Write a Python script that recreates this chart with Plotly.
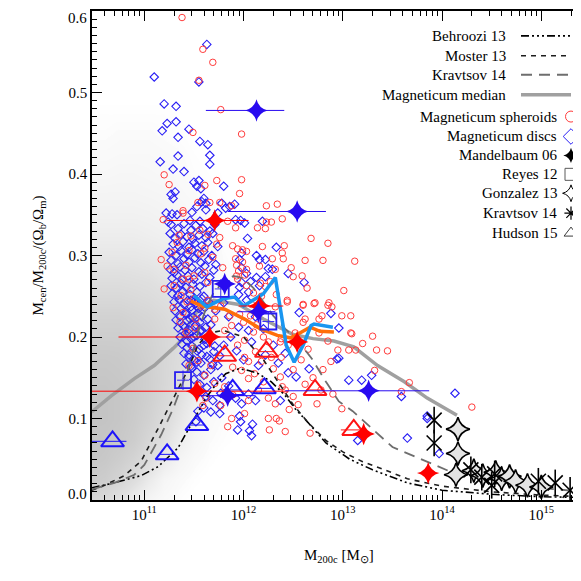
import math
import plotly.graph_objects as go

FONT = "Liberation Serif"

# ---------------- data (log10 M200c, Mcen/M200c/(Ob/Om)) ----------------
# density of the grey Magneticum background galaxies, read by eye (rows = fraction, cols = logM)
gray_logm = [10.45, 10.6, 10.75, 10.9, 11.05, 11.2, 11.35, 11.5, 11.65, 11.8, 12.0, 12.3]
gray_frac = [0.0, 0.025, 0.05, 0.075, 0.1, 0.125, 0.15, 0.175, 0.2, 0.225, 0.25, 0.275,
             0.3, 0.325, 0.35, 0.375, 0.4, 0.425, 0.45, 0.475, 0.5]
gray_density = [
    [0.60, 0.50, 0.35, 0.20, 0.10, 0.05, 0.02, 0, 0, 0, 0, 0],
    [0.85, 0.80, 0.65, 0.45, 0.25, 0.10, 0.05, 0.02, 0, 0, 0, 0],
    [0.95, 0.90, 0.80, 0.65, 0.45, 0.25, 0.12, 0.05, 0.02, 0, 0, 0],
    [1.00, 0.95, 0.90, 0.80, 0.60, 0.40, 0.22, 0.10, 0.04, 0.02, 0, 0],
    [1.00, 1.00, 0.95, 0.85, 0.70, 0.50, 0.32, 0.16, 0.06, 0.03, 0.01, 0],
    [1.00, 1.00, 0.95, 0.88, 0.75, 0.58, 0.40, 0.22, 0.10, 0.04, 0.02, 0],
    [0.95, 0.95, 0.92, 0.85, 0.75, 0.60, 0.45, 0.28, 0.12, 0.05, 0.02, 0],
    [0.90, 0.90, 0.88, 0.82, 0.72, 0.60, 0.48, 0.30, 0.14, 0.06, 0.02, 0],
    [0.80, 0.80, 0.80, 0.75, 0.68, 0.58, 0.48, 0.32, 0.15, 0.06, 0.02, 0],
    [0.70, 0.70, 0.70, 0.65, 0.60, 0.52, 0.42, 0.30, 0.14, 0.05, 0.02, 0],
    [0.55, 0.55, 0.55, 0.52, 0.48, 0.42, 0.35, 0.25, 0.12, 0.05, 0.02, 0],
    [0.42, 0.42, 0.42, 0.40, 0.38, 0.33, 0.28, 0.20, 0.10, 0.04, 0.01, 0],
    [0.30, 0.30, 0.30, 0.30, 0.28, 0.25, 0.20, 0.15, 0.08, 0.03, 0.01, 0],
    [0.22, 0.22, 0.22, 0.22, 0.20, 0.18, 0.15, 0.10, 0.05, 0.02, 0.01, 0],
    [0.16, 0.16, 0.16, 0.16, 0.15, 0.13, 0.10, 0.07, 0.04, 0.02, 0, 0],
    [0.12, 0.12, 0.12, 0.12, 0.11, 0.10, 0.07, 0.05, 0.03, 0.01, 0, 0],
    [0.08, 0.08, 0.09, 0.09, 0.08, 0.07, 0.05, 0.03, 0.02, 0.01, 0, 0],
    [0.05, 0.05, 0.06, 0.06, 0.06, 0.05, 0.04, 0.02, 0.01, 0, 0, 0],
    [0.03, 0.03, 0.04, 0.04, 0.04, 0.03, 0.02, 0.01, 0, 0, 0, 0],
    [0.02, 0.02, 0.02, 0.02, 0.02, 0.02, 0.01, 0, 0, 0, 0, 0],
    [0, 0, 0, 0, 0, 0, 0, 0, 0, 0, 0, 0],
]

spheroids = [
    (11.38,0.592),(11.59,0.553),(11.69,0.537),(11.55,0.515),(11.77,0.479),(11.98,0.449),(11.49,0.451),
    (11.20,0.399),(11.25,0.387),(11.39,0.355),(11.61,0.386),(11.73,0.392),(11.96,0.376),(11.98,0.393),
    (11.54,0.365),(11.66,0.365),(11.76,0.365),(11.88,0.361),(12.23,0.361),(12.34,0.363),(12.39,0.345),
    (12.23,0.341),(12.28,0.341),(12.22,0.333),(12.14,0.334),(11.92,0.334),(11.19,0.344),(11.84,0.342),
    (11.39,0.352),(12.68,0.321),(12.85,0.315),(12.19,0.311),(12.41,0.312),(12.39,0.303),(12.40,0.296),
    (11.99,0.307),(12.03,0.305),(12.29,0.296),(12.62,0.294),(12.80,0.294),(13.12,0.293),(12.48,0.285),
    (12.32,0.283),(11.99,0.292),(12.16,0.287),(12.59,0.275),(12.50,0.274),(12.64,0.260),(12.01,0.276),
    (11.93,0.275),(12.03,0.263),(12.17,0.266),(13.01,0.257),(12.22,0.262),(12.27,0.268),(12.10,0.254),
    (12.33,0.252),(12.44,0.245),(12.60,0.239),(12.71,0.241),(12.85,0.239),(12.89,0.237),(12.32,0.237),
    (11.93,0.288),(11.95,0.281),(11.92,0.296),(11.35,0.325),(11.47,0.324),(11.64,0.326),(11.76,0.322),
    (11.89,0.312),(11.94,0.308),(11.45,0.306),(11.57,0.302),(11.69,0.298),(11.28,0.304),(11.79,0.285),
    (12.03,0.283),(11.50,0.275),(11.39,0.271),(11.30,0.263),(11.45,0.271),(11.64,0.267),(11.94,0.271),
    (11.30,0.283),(11.61,0.279),(11.37,0.251),(11.50,0.247),(11.57,0.238),(11.20,0.259),(11.17,0.295),
    (11.23,0.287),(11.73,0.314),(11.61,0.309),(12.44,0.243),(12.60,0.240),(12.72,0.242),(12.86,0.242),
    (12.99,0.226),(12.79,0.226),(12.76,0.222),(12.62,0.222),(12.76,0.205),(12.85,0.195),(12.95,0.184),
    (13.06,0.184),(13.08,0.205),(13.30,0.201),(13.13,0.184),(13.34,0.184),(13.45,0.183),(13.32,0.159),
    (13.67,0.144),(13.59,0.133),(12.37,0.194),(12.38,0.175),(12.39,0.139),(12.50,0.127),(12.55,0.117),
    (12.74,0.118),(12.60,0.218),(13.08,0.226),(13.09,0.204),(13.20,0.192),(14.30,0.114),(12.26,0.086),
    (12.33,0.100),(12.36,0.097),(12.46,0.111),(12.67,0.082),(12.99,0.112),(11.88,0.100),(11.94,0.190),
    (12.01,0.175),(11.89,0.163),(11.98,0.159),(12.05,0.149),(12.11,0.155),(12.15,0.135),(12.30,0.161),
    (12.37,0.151),(12.42,0.135),(11.77,0.116),(12.01,0.106),(12.10,0.206),(11.81,0.208),(11.88,0.214),
    (11.71,0.222),(12.00,0.218),(12.20,0.200),(12.25,0.194),(12.38,0.198),(12.01,0.196),(12.28,0.175),
    (11.54,0.171),(11.61,0.153),(11.81,0.139),(11.89,0.129),(12.05,0.122),(11.71,0.143),(11.67,0.165),
    (11.39,0.230),(11.42,0.206),(11.49,0.186),(11.45,0.165),(11.54,0.141),(11.62,0.125),(11.59,0.116),
    (11.52,0.222),(11.71,0.234),(11.77,0.238),(11.86,0.226),(11.64,0.245),(12.25,0.100),(12.42,0.084),
    (11.84,0.090),(12.50,0.160),(12.58,0.172),(12.65,0.185),(12.70,0.150),(12.80,0.160),(12.62,0.142),
    (12.45,0.190),(12.52,0.205),(12.88,0.170),(12.90,0.130),(12.78,0.135),(12.12,0.182),(12.18,0.170),
    (12.20,0.145),(12.25,0.125),(12.32,0.118),(12.05,0.170),(12.13,0.215),(11.96,0.228),(12.08,0.240),
    (12.18,0.250),(12.07,0.226),(11.33,0.316),(11.42,0.288),(11.36,0.219),(11.47,0.258),(11.56,0.331),
    (11.29,0.236),(11.43,0.243),(11.51,0.211),
]

discs = [
    (11.10,0.519),(11.20,0.486),(11.18,0.453),(11.23,0.462),(11.32,0.483),(11.32,0.464),(11.34,0.445),
    (11.45,0.455),(11.56,0.440),(11.63,0.559),(11.55,0.513),(11.64,0.436),(11.66,0.423),(11.66,0.412),
    (11.16,0.415),(11.29,0.406),(11.34,0.422),(11.40,0.403),(11.27,0.375),(11.29,0.370),(11.31,0.378),
    (11.50,0.390),(11.53,0.385),(11.55,0.392),(11.57,0.382),(11.58,0.366),(11.60,0.370),(11.62,0.364),
    (11.53,0.360),(11.80,0.385),(11.78,0.364),(11.82,0.358),(11.86,0.360),(11.22,0.352),(11.28,0.351),
    (11.33,0.350),(11.48,0.353),(11.62,0.356),(11.74,0.352),(11.97,0.343),(12.01,0.340),(12.19,0.342),
    (11.24,0.341),(11.46,0.343),(11.56,0.342),(11.91,0.363),(11.92,0.344),
    (12.04,0.321),(12.33,0.310),(11.98,0.303),(11.96,0.295),(12.13,0.300),(12.16,0.295),(12.22,0.295),
    (11.98,0.285),(12.03,0.278),(12.25,0.284),(12.29,0.283),(12.13,0.273),(12.22,0.274),(11.98,0.267),
    (12.07,0.268),(12.16,0.263),(12.45,0.278),(12.61,0.267),(11.96,0.261),(12.05,0.255),(11.95,0.252),
    (12.03,0.245),
    (12.56,0.230),(12.88,0.229),(12.96,0.211),(12.94,0.173),(12.45,0.156),(12.53,0.151),(12.66,0.161),
    (13.06,0.147),(13.19,0.147),(13.29,0.153),(13.59,0.127),(12.37,0.122),(13.85,0.103),(14.13,0.131),
    (13.85,0.100),(13.15,0.073),(13.65,0.076),(13.97,0.057),(12.96,0.174),
    (11.96,0.103),(11.97,0.096),(12.09,0.093),(12.06,0.085),(12.08,0.079),(11.76,0.106),(11.54,0.109),
    (11.52,0.096),(11.94,0.086),
    (11.44,0.245),(11.47,0.237),(11.50,0.243),(11.55,0.235),(11.42,0.228),(11.46,0.222),(11.52,0.215),
    (11.58,0.225),(11.41,0.212),(11.45,0.205),(11.50,0.200),(11.56,0.207),(11.62,0.212),(11.43,0.195),
    (11.48,0.189),(11.53,0.183),(11.60,0.190),(11.66,0.198),(11.45,0.178),(11.50,0.172),(11.57,0.168),
    (11.63,0.176),(11.70,0.182),(11.48,0.162),(11.53,0.157),(11.60,0.153),(11.67,0.160),(11.74,0.165),
    (11.50,0.148),(11.56,0.142),(11.63,0.138),(11.70,0.145),(11.78,0.150),(11.55,0.133),(11.62,0.127),
    (11.69,0.122),(11.77,0.131),(11.85,0.140),(11.60,0.113),(11.67,0.108),(11.76,0.116),(11.92,0.125),
    (11.98,0.118),(12.05,0.130),(12.12,0.122),(11.80,0.190),(11.87,0.200),(11.93,0.183),(12.00,0.172),
    (12.08,0.194),(12.15,0.165),(12.22,0.178),(12.30,0.190),(12.05,0.208),(11.85,0.225),(11.95,0.212),
    (12.12,0.225),(12.20,0.210),(12.35,0.168),(12.42,0.180),(11.72,0.232),(11.80,0.242),
    (11.27,0.338),(11.34,0.333),(11.40,0.339),(11.47,0.331),(11.52,0.337),(11.59,0.333),(11.66,0.330),
    (11.71,0.338),(11.26,0.327),(11.31,0.321),(11.37,0.326),(11.43,0.323),(11.49,0.320),(11.55,0.325),
    (11.62,0.322),(11.69,0.327),(11.29,0.314),(11.35,0.311),(11.39,0.317),(11.45,0.310),(11.51,0.315),
    (11.58,0.312),(11.64,0.316),(11.74,0.311),(11.25,0.304),(11.32,0.300),(11.37,0.306),(11.43,0.301),
    (11.48,0.307),(11.54,0.302),(11.60,0.305),(11.68,0.300),(11.27,0.294),(11.34,0.290),(11.40,0.296),
    (11.45,0.292),(11.51,0.297),(11.57,0.291),(11.65,0.295),(11.72,0.289),(11.26,0.283),(11.30,0.279),
    (11.36,0.286),(11.41,0.282),(11.48,0.285),(11.55,0.280),(11.61,0.287),(11.70,0.282),(11.28,0.272),
    (11.33,0.276),(11.38,0.270),(11.44,0.275),(11.50,0.271),(11.58,0.277),(11.66,0.273),(11.27,0.263),
    (11.32,0.260),(11.37,0.266),(11.42,0.261),(11.49,0.265),(11.56,0.262),(11.62,0.267),(11.28,0.253),
    (11.34,0.251),(11.39,0.256),(11.46,0.252),(11.53,0.255),(11.60,0.250),(11.30,0.243),(11.35,0.246),
    (11.40,0.240),(11.47,0.245),(11.52,0.241),(11.58,0.247),(11.65,0.243),(11.31,0.232),(11.37,0.235),
    (11.42,0.230),(11.48,0.233),(11.54,0.229),(11.61,0.236),(11.32,0.221),(11.36,0.225),(11.43,0.220),
    (11.49,0.224),(11.56,0.218),(11.64,0.222),(11.34,0.211),(11.39,0.214),(11.45,0.209),(11.51,0.213),
    (11.58,0.208),(11.67,0.215),(11.36,0.200),(11.41,0.204),(11.47,0.198),(11.53,0.202),(11.61,0.197),
    (11.38,0.191),(11.43,0.187),(11.55,0.185),(11.63,0.192),(11.71,0.189),(11.40,0.180),(11.45,0.175),
    (11.58,0.178),(11.66,0.173),(11.76,0.177),(11.42,0.167),(11.47,0.164),(11.53,0.169),(11.69,0.166),
]

median_logm = [10.47, 10.67, 10.90, 11.10, 11.29, 11.39, 11.44, 11.55, 11.70, 11.95, 12.20, 12.50,
               12.70, 12.91, 13.11, 13.35, 13.62, 13.85, 14.15]
median_frac = [0.108, 0.128, 0.149, 0.165, 0.186, 0.198, 0.214, 0.235, 0.245, 0.240, 0.222, 0.203,
               0.198, 0.195, 0.188, 0.165, 0.145, 0.125, 0.104]

spheroid_med_logm = [11.47, 11.58, 11.70, 11.81, 12.01, 12.17, 12.34, 12.47, 12.51, 12.67, 12.77, 12.91]
spheroid_med_frac = [0.244, 0.238, 0.236, 0.234, 0.222, 0.210, 0.202, 0.199, 0.201, 0.212, 0.207, 0.206]

disc_med_logm = [11.50, 11.63, 11.79, 11.91, 12.00, 12.20, 12.32, 12.37, 12.43, 12.51, 12.60, 12.68, 12.71, 12.90]
disc_med_frac = [0.251, 0.237, 0.247, 0.249, 0.238, 0.253, 0.273, 0.235, 0.190, 0.169, 0.190, 0.214, 0.216, 0.212]

behroozi_logm = [10.47, 10.66, 10.97, 11.14, 11.34, 11.45, 11.52, 11.62, 11.71, 11.82, 11.95, 12.05, 12.15,
                 12.28, 12.42, 12.52, 12.65, 12.83, 13.07, 13.30, 13.65, 14.00, 14.50, 15.00, 15.45]
behroozi_frac = [0.015, 0.020, 0.030, 0.041, 0.064, 0.088, 0.103, 0.125, 0.140, 0.155, 0.161, 0.159, 0.155,
                 0.145, 0.128, 0.112, 0.095, 0.070, 0.050, 0.037, 0.021, 0.012, 0.007, 0.004, 0.003]

moster_logm = [10.47, 10.60, 10.80, 10.97, 11.14, 11.24, 11.34, 11.44, 11.54, 11.65, 11.80, 12.00, 12.20,
               12.35, 12.50, 12.65, 12.83, 13.00, 13.20, 13.40, 13.65, 14.00, 14.50, 15.00, 15.45]
moster_frac = [0.012, 0.018, 0.030, 0.048, 0.088, 0.112, 0.135, 0.160, 0.190, 0.205, 0.208, 0.200, 0.172,
               0.145, 0.117, 0.095, 0.073, 0.059, 0.047, 0.038, 0.026, 0.017, 0.010, 0.006, 0.004]

kravtsov_logm = [10.47, 10.60, 10.70, 10.90, 11.00, 11.17, 11.29, 11.44, 11.54, 11.62, 11.70, 11.80, 11.90,
                 12.00, 12.10, 12.20, 12.30, 12.42, 12.55, 12.69, 12.83, 12.96, 13.10, 13.20, 13.50, 14.08,
                 14.86, 15.45]
kravtsov_frac = [0.013, 0.017, 0.021, 0.031, 0.043, 0.080, 0.112, 0.160, 0.205, 0.235, 0.255, 0.268, 0.275,
                 0.272, 0.260, 0.243, 0.226, 0.210, 0.195, 0.173, 0.145, 0.121, 0.109, 0.098, 0.065, 0.035,
                 0.016, 0.010]

# Mandelbaum 06: (logM, frac, logM_low, logM_high)
mandel_red = [(11.71, 0.343, 11.23, 12.05), (11.66, 0.200, 10.74, 11.90), (11.53, 0.1335, 10.30, 12.45),
              (12.16, 0.238, 11.95, 12.40), (12.54, 0.194, 12.45, 12.62), (13.21, 0.081, 13.10, 13.30),
              (13.86, 0.033, 13.78, 13.93)]
mandel_blue = [(12.13, 0.478, 11.62, 12.41), (12.54, 0.354, 11.84, 12.83), (11.81, 0.265, 11.75, 11.87),
               (12.15, 0.231, 11.94, 12.32), (11.84, 0.128, 11.55, 12.12), (13.26, 0.134, 12.42, 13.87)]

reyes_logm = [11.39, 11.77, 12.25]
reyes_frac = [0.147, 0.259, 0.219]

gonzalez_logm = [14.16, 14.16, 14.14, 14.32, 14.41, 14.54, 14.60, 14.68, 14.74, 14.86, 15.00]
gonzalez_frac = [0.087, 0.057, 0.031, 0.036, 0.030, 0.034, 0.026, 0.029, 0.023, 0.018, 0.016]

kravtsov14_logm = [13.92, 13.92, 14.29, 14.40, 14.50, 14.53, 14.97, 15.14, 15.29]
kravtsov14_frac = [0.098, 0.070, 0.037, 0.028, 0.018, 0.032, 0.023, 0.021, 0.012]

# Hudson 15: (logM, frac, logM_low, logM_high)
hudson_blue = [(10.68, 0.072, 10.46, 10.82), (11.23, 0.056, 11.15, 11.31), (11.53, 0.092, 11.45, 11.61),
               (11.89, 0.135, 11.80, 11.98), (12.21, 0.137, 12.12, 12.30)]
hudson_red = [(11.81, 0.177, 11.73, 11.89), (12.23, 0.182, 12.15, 12.31), (12.72, 0.135, 12.63, 12.81),
              (13.11, 0.086, 12.98, 13.18)]

x_decades = [11, 12, 13, 14, 15]

# ---------------- figure (x axis in log10 M200c) ----------------
fig = go.Figure()

fig.add_trace(go.Heatmap(
    x=gray_logm, y=gray_frac, z=gray_density,
    zsmooth="best", zmin=0, zmax=1, showscale=False, hoverinfo="skip",
    colorscale=[[0, "rgba(255,255,255,0)"], [0.04, "rgba(250,250,250,1)"],
                [0.4, "rgb(224,224,224)"], [1, "rgb(196,196,196)"]],
))

fig.add_trace(go.Scatter(x=median_logm, y=median_frac, mode="lines",
                         line=dict(color="rgb(160,160,160)", width=3.5)))

fig.add_trace(go.Scatter(x=[p[0] for p in discs], y=[p[1] for p in discs], mode="markers",
                         marker=dict(symbol="diamond-open", size=6.5, color="rgb(40,30,245)",
                                     line=dict(width=1.1))))
fig.add_trace(go.Scatter(x=[p[0] for p in spheroids], y=[p[1] for p in spheroids], mode="markers",
                         marker=dict(symbol="circle-open", size=6.5, color="rgb(255,60,60)",
                                     line=dict(width=1))))

fig.add_trace(go.Scatter(x=behroozi_logm, y=behroozi_frac, mode="lines",
                         line=dict(color="black", width=1.6, dash="8px,3px,2px,3px,2px,3px,2px,3px")))
fig.add_trace(go.Scatter(x=moster_logm, y=moster_frac, mode="lines",
                         line=dict(color="rgb(30,30,30)", width=1.6, dash="5px,5px")))
fig.add_trace(go.Scatter(x=kravtsov_logm, y=kravtsov_frac, mode="lines",
                         line=dict(color="rgb(110,110,110)", width=1.8, dash="11px,7px")))

fig.add_trace(go.Scatter(x=spheroid_med_logm, y=spheroid_med_frac, mode="lines",
                         line=dict(color="rgb(255,110,10)", width=3.5)))
fig.add_trace(go.Scatter(x=disc_med_logm, y=disc_med_frac, mode="lines",
                         line=dict(color="rgb(25,150,240)", width=3.5)))


def err_trace(rows, color, symbol, size, lw):
    return go.Scatter(
        x=[r[0] for r in rows], y=[r[1] for r in rows], mode="markers",
        error_x=dict(type="data", symmetric=False,
                     array=[r[3] - r[0] for r in rows],
                     arrayminus=[r[0] - r[2] for r in rows],
                     color=color, thickness=1, width=0),
        marker=dict(symbol=symbol, size=size, color=color, line=dict(width=lw, color=color)),
    )


fig.add_trace(err_trace(hudson_blue, "rgb(30,20,250)", "triangle-up-open", 20, 2))
fig.add_trace(err_trace(hudson_red, "rgb(255,20,20)", "triangle-up-open", 20, 2))

fig.add_trace(go.Scatter(
    x=reyes_logm, y=reyes_frac, mode="markers",
    error_x=dict(type="constant", value=0.06, color="rgb(60,50,240)", thickness=1, width=0),
    error_y=dict(type="constant", value=0.012, color="rgb(60,50,240)", thickness=1, width=0),
    marker=dict(symbol="square-open", size=16, color="rgb(40,30,240)", line=dict(width=1.8))))

fig.add_trace(err_trace(mandel_red, "rgb(255,0,0)", "star-diamond", 16, 0))
fig.add_trace(err_trace(mandel_blue, "rgb(40,10,240)", "star-diamond", 16, 0))

fig.add_trace(go.Scatter(x=gonzalez_logm, y=gonzalez_frac, mode="markers",
                         marker=dict(symbol="star-diamond", size=17, color="rgb(228,228,228)",
                                     line=dict(width=1.6, color="black"))))
fig.add_trace(go.Scatter(x=kravtsov14_logm, y=kravtsov14_frac, mode="markers",
                         marker=dict(symbol="x-thin-open", size=15, color="black", line=dict(width=1.6))))
fig.add_trace(go.Scatter(x=kravtsov14_logm, y=kravtsov14_frac, mode="markers",
                         marker=dict(symbol="line-ns-open", size=19, color="black", line=dict(width=1.6))))

# ---------------- legend (drawn on a pixel-like overlay axis) ----------------
legend_lines = [
    ("Behroozi 13", 26, dict(color="black", width=1.6, dash="8px,3px,2px,3px,2px,3px,2px,3px")),
    ("Moster 13", 46, dict(color="rgb(30,30,30)", width=1.6, dash="5px,5px")),
    ("Kravtsov 14", 65, dict(color="rgb(110,110,110)", width=1.8, dash="11px,7px")),
    ("Magneticum median", 85, dict(color="rgb(160,160,160)", width=3.5)),
]
legend_marks = [
    ("Magneticum spheroids", 107, dict(symbol="circle-open", size=11, color="rgb(255,60,60)", line=dict(width=1))),
    ("Magneticum discs", 127, dict(symbol="diamond-open", size=12, color="rgb(40,30,245)", line=dict(width=1))),
    ("Mandelbaum 06", 146, dict(symbol="star-diamond", size=11, color="black", line=dict(width=0))),
    ("Reyes 12", 165, dict(symbol="square-open", size=12, color="rgb(90,90,90)", line=dict(width=1))),
    ("Gonzalez 13", 184, dict(symbol="star-diamond-open", size=12, color="black", line=dict(width=1))),
    ("Kravtsov 14", 204, dict(symbol="asterisk-open", size=11, color="black", line=dict(width=1.2))),
    ("Hudson 15", 224, dict(symbol="triangle-up-open", size=12, color="rgb(60,60,60)", line=dict(width=1))),
]
annotations = []
for name, yy, ln in legend_lines:
    fig.add_trace(go.Scatter(x=[513, 563], y=[yy, yy], mode="lines", line=ln, xaxis="x3", yaxis="y3"))
    annotations.append(dict(x=500, y=yy, xref="x3", yref="y3", text=name, showarrow=False,
                            xanchor="right", yanchor="middle", font=dict(family=FONT, size=15, color="black")))
for name, yy, mk in legend_marks:
    fig.add_trace(go.Scatter(x=[563], y=[yy], mode="markers", marker=mk, xaxis="x3", yaxis="y3"))
    annotations.append(dict(x=551, y=yy, xref="x3", yref="y3", text=name, showarrow=False,
                            xanchor="right", yanchor="middle", font=dict(family=FONT, size=15, color="black")))

# y tick labels at the ends (shifted inside, as in the reference)
annotations.append(dict(x=0, y=0.0, xref="paper", yref="y", text="0.0", showarrow=False, xanchor="right",
                        yanchor="middle", xshift=-3, yshift=6, font=dict(family=FONT, size=15, color="black")))
annotations.append(dict(x=0, y=0.6, xref="paper", yref="y", text="0.6", showarrow=False, xanchor="right",
                        yanchor="middle", xshift=-3, yshift=-7, font=dict(family=FONT, size=15, color="black")))
# axis titles
annotations.append(dict(x=0.5, y=0, xref="paper", yref="paper", yshift=-56,
                        text="M<sub>200c</sub> [M<sub>⊙</sub>]", showarrow=False, xanchor="center",
                        yanchor="middle", font=dict(family=FONT, size=15, color="black")))
annotations.append(dict(x=0, y=0.5, xref="paper", yref="paper", xshift=-54, textangle=-90,
                        text="M<sub>cen</sub>/M<sub>200c</sub>/(Ω<sub>b</sub>/Ω<sub>m</sub>)",
                        showarrow=False, xanchor="center", yanchor="middle",
                        font=dict(family=FONT, size=15, color="black")))

XMIN, XMAX = 10.473, 15.45
minor_x = [e + math.log10(m) for e in range(10, 16) for m in range(2, 10)]

fig.update_layout(
    width=581, height=581,
    margin=dict(l=84, r=3, t=1, b=89),
    paper_bgcolor="white", plot_bgcolor="white",
    showlegend=False,
    font=dict(family=FONT, size=15, color="black"),
    xaxis=dict(range=[XMIN, XMAX], showgrid=False, zeroline=False,
               showline=True, linecolor="black", linewidth=1.5, mirror="ticks",
               ticks="inside", ticklen=10, tickwidth=1.2, tickcolor="black",
               tickvals=x_decades,
               ticktext=["10<sup>%d</sup>" % d for d in x_decades],
               tickfont=dict(family=FONT, size=15, color="black"),
               minor=dict(tickvals=minor_x, ticks="inside", ticklen=5, tickwidth=1, tickcolor="black")),
    yaxis=dict(range=[0, 0.6], showgrid=False, zeroline=False,
               showline=True, linecolor="black", linewidth=1.5, mirror="ticks",
               ticks="inside", ticklen=10, tickwidth=1.2, tickcolor="black",
               tickvals=[0, 0.1, 0.2, 0.3, 0.4, 0.5, 0.6],
               ticktext=["", "0.1", "0.2", "0.3", "0.4", "0.5", ""],
               tickfont=dict(family=FONT, size=15, color="black"),
               minor=dict(dtick=0.01, ticks="inside", ticklen=5, tickwidth=1, tickcolor="black")),
    xaxis3=dict(overlaying="x", anchor="y3", range=[84, 578], visible=False),
    yaxis3=dict(overlaying="y", anchor="x3", range=[492, 1], visible=False),
    annotations=annotations,
)

fig.write_html("out.html")
